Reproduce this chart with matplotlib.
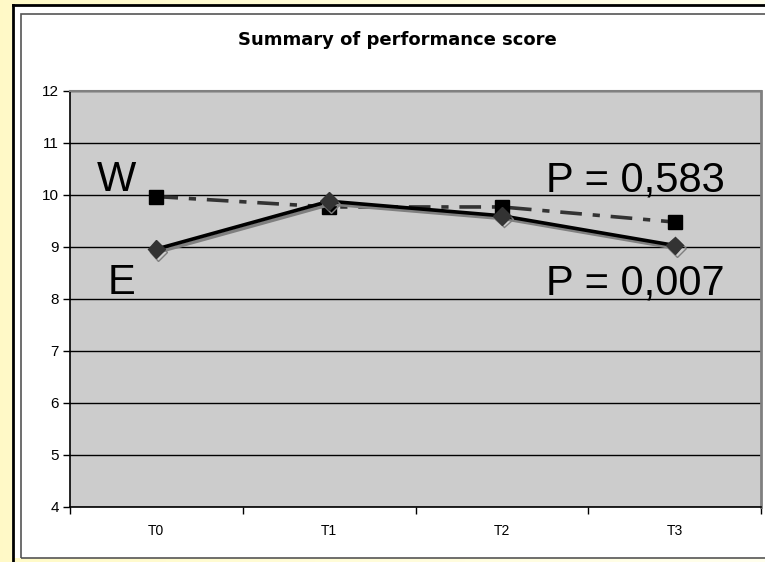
import numpy as np
import matplotlib
matplotlib.use("Agg")
import matplotlib.pyplot as plt
import matplotlib.patheffects as pe
from matplotlib.patches import Rectangle
from matplotlib.lines import Line2D

categories = ["T0", "T1", "T2", "T3"]
w_scores = [9.97, 9.77, 9.77, 9.48]
e_scores = [8.96, 9.88, 9.6, 9.03]
y_ticks = [4, 5, 6, 7, 8, 9, 10, 11, 12]

W, H = 765, 562
fig = plt.figure(figsize=(W / 100, H / 100), dpi=100)


def fx(px):
    return px / W


def fy(py):
    return 1 - py / H


# pale yellow background, stronger at the left
bg = fig.add_axes([0, 0, 1, 1], zorder=-10)
grad = np.linspace(0, 1, 256)
c0 = np.array([1.0, 0.98, 0.78])
c1 = np.array([1.0, 1.0, 0.93])
img = c0[None, :] * (1 - grad[:, None]) + c1[None, :] * grad[:, None]
bg.imshow(img[None, :, :], aspect="auto", extent=[0, 1, 0, 1])
bg.set_axis_off()

# chart area white frame
fig.patches.append(Rectangle((fx(12), fy(558)), 1, fy(5) - fy(558),
                             transform=fig.transFigure, facecolor="white",
                             edgecolor="none", zorder=-5))
fig.lines.append(Line2D([fx(12.5), fx(12.5)], [0, fy(5)], transform=fig.transFigure,
                        color="black", lw=2))
fig.lines.append(Line2D([fx(12.5), 1], [fy(5), fy(5)], transform=fig.transFigure,
                        color="black", lw=2))
fig.patches.append(Rectangle((fx(20.5), fy(557.5)), 1, fy(13.5) - fy(557.5),
                             transform=fig.transFigure, facecolor="none",
                             edgecolor="#555555", lw=1.2, zorder=5))

ax = fig.add_axes([fx(70), fy(507), fx(761) - fx(70), fy(91) - fy(507)])
ax.set_facecolor("#CCCCCC")
x = np.arange(len(categories))

ax.plot(x, w_scores, color="#333333", lw=2.6, dashes=(6, 3, 2, 3),
        marker="s", markersize=10, markerfacecolor="black",
        markeredgecolor="black", zorder=3)
ax.plot(x, e_scores, color="black", lw=2.6, marker="D", markersize=9,
        markerfacecolor="#333333", markeredgecolor="#333333", zorder=4,
        path_effects=[pe.SimpleLineShadow(offset=(1.5, -2), shadow_color="#7f7f7f", alpha=1),
                      pe.Normal()])

ax.set_xlim(-0.5, 3.5)
ax.set_ylim(4, 12)
ax.set_yticks(y_ticks)
ax.yaxis.grid(True, color="black", lw=1)
ax.set_axisbelow(True)
ax.tick_params(axis="y", direction="out", length=5, width=1, labelsize=11, pad=3)
ax.set_xticks(x)
ax.set_xticklabels(categories)
ax.tick_params(axis="x", which="major", length=0, labelsize=10, pad=12)
ax.set_xticks(np.arange(-0.5, 4, 1), minor=True)
ax.tick_params(axis="x", which="minor", direction="out", length=5, width=1)
for lab in ax.get_xticklabels() + ax.get_yticklabels():
    lab.set_family("Liberation Sans")

ax.spines["left"].set_color("black")
ax.spines["bottom"].set_color("black")
ax.spines["left"].set_linewidth(1.2)
ax.spines["bottom"].set_linewidth(1.2)
ax.spines["top"].set_color("#808080")
ax.spines["right"].set_color("#808080")
ax.spines["top"].set_linewidth(1.5)
ax.spines["right"].set_linewidth(2)

big = dict(family="Liberation Sans", fontsize=30, color="black", va="center")
ax.text(-0.345, 10.28, "W", ha="left", **big)
ax.text(-0.28, 8.3, "E", ha="left", **big)
ax.text(2.255, 10.28, "P = 0,583", ha="left", **big)
ax.text(2.255, 8.3, "P = 0,007", ha="left", **big)

fig.text(fx(397), fy(40), "Summary of performance score", ha="center", va="center",
         fontsize=13, fontweight="bold", family="DejaVu Sans")

fig.savefig("out.png", dpi=100)
